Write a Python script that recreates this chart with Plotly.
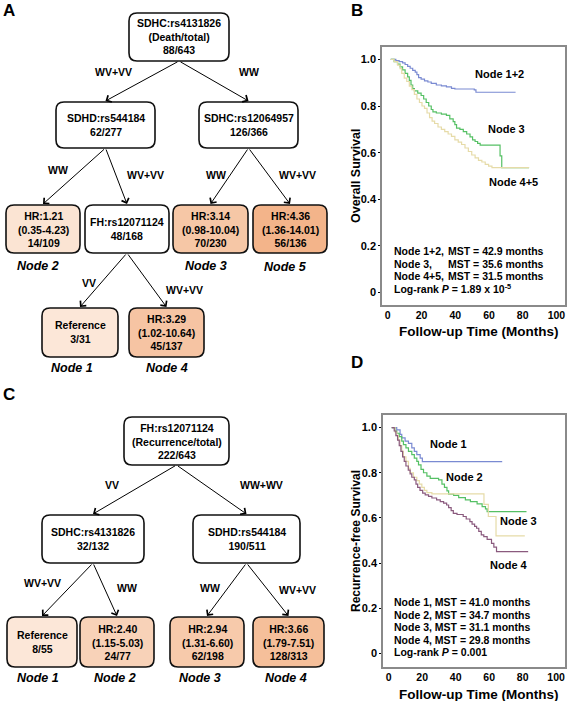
import plotly.graph_objects as go

W, H = 567, 701
FONT = "Liberation Sans, Arial, sans-serif"

# ---------------- data: panel A tree ----------------
a_nodes = ["SDHC:rs4131826<br>(Death/total)<br>88/643",
           "SDHD:rs544184<br>62/277",
           "SDHC:rs12064957<br>126/366",
           "HR:1.21<br>(0.35-4.23)<br>14/109",
           "FH:rs12071124<br>48/168",
           "HR:3.14<br>(0.98-10.04)<br>70/230",
           "HR:4.36<br>(1.36-14.01)<br>56/136",
           "Reference<br>3/31",
           "HR:3.29<br>(1.02-10.64)<br>45/137"]
a_hr = [None, None, None, 1.21, None, 3.14, 4.36, 1.0, 3.29]
a_edges = [(0, 1), (0, 2), (1, 3), (1, 4), (2, 5), (2, 6), (4, 7), (4, 8)]
a_edge_labels = ["WV+VV", "WW", "WW", "WV+VV", "WW", "WV+VV", "VV", "WV+VV"]
a_node_names = ["", "", "", "Node 2", "", "Node 3", "Node 5", "Node 1", "Node 4"]

# ---------------- data: panel C tree ----------------
c_nodes = ["FH:rs12071124<br>(Recurrence/total)<br>222/643",
           "SDHC:rs4131826<br>32/132",
           "SDHD:rs544184<br>190/511",
           "Reference<br>8/55",
           "HR:2.40<br>(1.15-5.03)<br>24/77",
           "HR:2.94<br>(1.31-6.60)<br>62/198",
           "HR:3.66<br>(1.79-7.51)<br>128/313"]
c_hr = [None, None, None, 1.0, 2.40, 2.94, 3.66]
c_edges = [(0, 1), (0, 2), (1, 3), (1, 4), (2, 5), (2, 6)]
c_edge_labels = ["VV", "WW+WV", "WV+VV", "WW", "WW", "WV+VV"]
c_node_names = ["", "", "", "Node 1", "Node 2", "Node 3", "Node 4"]

# ---------------- data: panel B survival curves ----------------
b_names = ["Node 1+2", "Node 3", "Node 4+5"]
b_t_node12 = [0, 3, 5, 7, 8.5, 10, 11.5, 13, 14.5, 15.5, 16.5, 18, 20, 22, 24, 27, 30, 33, 36, 38, 49.5, 50.5, 74]
b_s_node12 = [1.0, 0.995, 0.99, 0.985, 0.978, 0.97, 0.962, 0.953, 0.945, 0.935, 0.922, 0.915, 0.908, 0.903,
              0.897, 0.89, 0.886, 0.882, 0.876, 0.873, 0.869, 0.859, 0.859]
b_t_node3 = [0, 2, 4, 5.5, 7, 8.5, 10, 11, 12, 13, 14, 16, 18, 19.5, 21, 22.5, 24, 25, 27, 30, 33, 35, 37, 38,
             39, 41, 43, 45, 47, 48.5, 50, 51.5, 53, 64.8, 65.8, 82]
b_s_node3 = [1.0, 0.99, 0.98, 0.968, 0.955, 0.94, 0.925, 0.91, 0.89, 0.875, 0.865, 0.855, 0.845, 0.83, 0.815,
             0.80, 0.785, 0.775, 0.77, 0.765, 0.76, 0.745, 0.733, 0.72, 0.705, 0.70, 0.69, 0.68, 0.668, 0.655,
             0.648, 0.64, 0.632, 0.586, 0.536, 0.536]
b_t_node45 = [0, 2, 4, 5.5, 6.5, 8, 9.5, 11, 12.5, 14, 15.5, 17, 18.5, 20, 21.5, 23, 24.5, 26, 28, 30, 32, 34,
              36, 38, 40, 42, 44, 46, 48, 50, 52, 54, 56, 58, 60, 82]
b_s_node45 = [1.0, 0.99, 0.975, 0.96, 0.94, 0.92, 0.905, 0.885, 0.87, 0.85, 0.83, 0.815, 0.80, 0.79, 0.77, 0.75,
              0.735, 0.725, 0.71, 0.70, 0.69, 0.68, 0.67, 0.655, 0.645, 0.635, 0.62, 0.605, 0.59, 0.578, 0.567,
              0.56, 0.55, 0.542, 0.536, 0.536]
b_stats_nodes = ["Node 1+2,", "Node 3,", "Node 4+5,"]
b_stats_mst = [42.9, 35.6, 31.5]
b_logrank = "1.89 x 10<sup>-5</sup>"

# ---------------- data: panel D survival curves ----------------
d_names = ["Node 1", "Node 2", "Node 3", "Node 4"]
d_t_node1 = [0, 3, 5, 6, 8, 10, 12, 13.5, 15, 17, 18.3, 66]
d_s_node1 = [1.0, 0.99, 0.97, 0.955, 0.94, 0.93, 0.91, 0.895, 0.88, 0.865, 0.849, 0.849]
d_t_node2 = [0, 2, 3, 4.5, 6, 7, 8.5, 10, 12, 13.5, 15, 16, 17.5, 19, 21, 23, 28, 30, 31.5, 33, 34, 37, 40,
             44, 47, 51, 54, 56, 57, 80.5]
d_s_node2 = [1.0, 0.985, 0.975, 0.96, 0.94, 0.925, 0.91, 0.895, 0.88, 0.865, 0.85, 0.835, 0.815, 0.80, 0.785,
             0.775, 0.768, 0.75, 0.735, 0.72, 0.705, 0.70, 0.69, 0.68, 0.672, 0.662, 0.65, 0.64, 0.628, 0.628]
d_t_node3 = [0, 2, 3, 4, 5, 6, 7, 8.5, 10, 11, 13, 15, 16.5, 18, 19.5, 21, 24, 55.1, 57.7, 62.3, 79.5]
d_s_node3 = [1.0, 0.98, 0.965, 0.945, 0.92, 0.895, 0.87, 0.85, 0.82, 0.80, 0.78, 0.765, 0.75, 0.735, 0.722,
             0.712, 0.706, 0.66, 0.606, 0.52, 0.52]
d_t_node4 = [0, 1.5, 2.5, 3.5, 4.5, 5.5, 6.5, 7.5, 8.5, 9.9, 11, 12, 13.5, 14.5, 15.5, 16.9, 18.5, 20, 22, 24,
             26.8, 29, 31, 32.8, 34, 35.5, 36.8, 39, 42.7, 44.5, 46.7, 48, 49.5, 50.7, 52, 53.5, 55, 57, 59.6,
             61, 62.6, 81.5]
d_s_node4 = [1.0, 0.985, 0.965, 0.945, 0.92, 0.895, 0.87, 0.85, 0.83, 0.812, 0.795, 0.78, 0.768, 0.75, 0.735,
             0.722, 0.71, 0.702, 0.695, 0.688, 0.68, 0.672, 0.665, 0.657, 0.645, 0.632, 0.62, 0.615, 0.606,
             0.595, 0.583, 0.572, 0.562, 0.554, 0.54, 0.525, 0.517, 0.505, 0.487, 0.47, 0.45, 0.45]
d_stats_nodes = ["Node 1,", "Node 2,", "Node 3,", "Node 4,"]
d_stats_mst = [41.0, 34.7, 31.1, 29.8]
d_logrank = "0.001"

x_ticks = [0, 20, 40, 60, 80, 100]
y_ticks = [0, 0.2, 0.4, 0.6, 0.8, 1.0]
y_ticktext = ["0", "0.2", "0.4", "0.6", "0.8", "1.0"]

# ---------------- layout (pixel positions) ----------------
a_boxes = [(129, 229, 13, 61), (56, 155, 102, 148), (199, 298, 102, 148),
           (6, 80, 205, 253), (85, 169, 205, 253), (173, 248, 205, 253), (253, 327, 205, 253),
           (42, 118, 308, 357), (129, 204, 308, 357)]
a_label_pos = [(113, 72), (249, 72), (58, 170), (145, 175), (216, 175), (297, 175), (89, 283), (184, 290)]
a_name_pos = {3: (38, 266), 5: (206, 266), 6: (285, 267), 7: (72, 368), 8: (167, 368)}

c_boxes = [(124, 229, 417, 465), (42, 144, 515, 563), (193, 300, 515, 563),
           (7, 77, 617, 667), (80, 154, 617, 667), (170, 244, 617, 667), (253, 324, 617, 667)]
c_label_pos = [(112, 485), (261, 485), (42, 583), (127, 588), (210, 588), (297, 590)]
c_name_pos = {3: (38, 678), 4: (115, 678), 5: (200, 678), 6: (286, 678)}

COL_BLUE = "#7A8AD2"
COL_GREEN = "#55C064"
COL_TAN = "#E6DBA8"
COL_PURPLE = "#8A5A7E"


def px(x):
    return x / W


def py(y):
    return 1 - y / H


def hr_color(hr):
    if hr is None:
        return "white"
    t = max(0.0, min(1.0, (hr - 1.0) / (4.36 - 1.0)))
    lo = (252, 231, 216)
    hi = (243, 180, 138)
    c = [round(lo[i] + (hi[i] - lo[i]) * t) for i in range(3)]
    return f"rgb({c[0]},{c[1]},{c[2]})"


def rr_path(x0, x1, y0, y1, r=8):
    f = lambda x, y: f"{px(x):.5f},{py(y):.5f}"
    return (f"M {f(x0 + r, y0)} L {f(x1 - r, y0)} Q {f(x1, y0)} {f(x1, y0 + r)} "
            f"L {f(x1, y1 - r)} Q {f(x1, y1)} {f(x1 - r, y1)} L {f(x0 + r, y1)} "
            f"Q {f(x0, y1)} {f(x0, y1 - r)} L {f(x0, y0 + r)} Q {f(x0, y0)} {f(x0 + r, y0)} Z")


shapes = []
annotations = []


def txt(x, y, text, size=10.5, xanchor="center", italic=False, angle=0):
    t = f"<b>{text}</b>"
    if italic:
        t = f"<b><i>{text}</i></b>"
    annotations.append(dict(x=px(x), y=py(y), xref="paper", yref="paper", text=t, showarrow=False,
                            xanchor=xanchor, yanchor="middle", textangle=angle,
                            font=dict(family=FONT, size=size, color="black")))


def draw_tree(nodes, hrs, edges, edge_labels, names, boxes, label_pos, name_pos):
    for i, (x0, x1, y0, y1) in enumerate(boxes):
        shapes.append(dict(type="path", path=rr_path(x0, x1, y0, y1), xref="paper", yref="paper",
                           fillcolor=hr_color(hrs[i]), line=dict(color="#111111", width=1.6)))
        txt((x0 + x1) / 2, (y0 + y1) / 2, nodes[i], size=10.5)
        if names[i]:
            nx, ny = name_pos[i]
            txt(nx, ny, names[i], size=12.5, italic=True)
    for k, (p, c) in enumerate(edges):
        bx0, bx1, by0, by1 = boxes[p]
        cx0, cx1, cy0, cy1 = boxes[c]
        sx, sy = (bx0 + bx1) / 2, by1
        ex, ey = (cx0 + cx1) / 2, cy0 - 1
        annotations.append(dict(x=px(ex), y=py(ey), xref="paper", yref="paper", text="",
                                showarrow=True, ax=sx - ex, ay=sy - ey, axref="pixel", ayref="pixel",
                                arrowhead=4, arrowsize=1.5, arrowwidth=1, arrowcolor="black", standoff=0))
        lx, ly = label_pos[k]
        txt(lx, ly, edge_labels[k], size=10.5)


draw_tree(a_nodes, a_hr, a_edges, a_edge_labels, a_node_names, a_boxes, a_label_pos, a_name_pos)
draw_tree(c_nodes, c_hr, c_edges, c_edge_labels, c_node_names, c_boxes, c_label_pos, c_name_pos)

# panel letters
txt(9, 11, "A", size=17)
txt(357, 11, "B", size=17)
txt(9, 394, "C", size=17)
txt(357, 362, "D", size=17)

fig = go.Figure()

b_curves = [(b_t_node12, b_s_node12, COL_BLUE), (b_t_node3, b_s_node3, COL_GREEN),
            (b_t_node45, b_s_node45, COL_TAN)]
for (t, s, col), nm in zip(b_curves, b_names):
    fig.add_trace(go.Scatter(x=t, y=s, mode="lines", line=dict(color=col, width=1.2, shape="hv"),
                             name=nm, xaxis="x", yaxis="y", showlegend=False, hoverinfo="skip"))

d_curves = [(d_t_node1, d_s_node1, COL_BLUE), (d_t_node2, d_s_node2, COL_GREEN),
            (d_t_node3, d_s_node3, COL_TAN), (d_t_node4, d_s_node4, COL_PURPLE)]
for (t, s, col), nm in zip(d_curves, d_names):
    fig.add_trace(go.Scatter(x=t, y=s, mode="lines", line=dict(color=col, width=1.2, shape="hv"),
                             name=nm, xaxis="x2", yaxis="y2", showlegend=False, hoverinfo="skip"))

# curve labels (data coordinates)
b_label_xy = [(64.2, 0.937), (68.9, 0.701), (72.5, 0.474)]
for nm, (x, y) in zip(b_names, b_label_xy):
    annotations.append(dict(x=x, y=y, xref="x", yref="y", text=f"<b>{nm}</b>", showarrow=False,
                            font=dict(family=FONT, size=11, color="black")))
d_label_xy = [(34.2, 0.928), (43.2, 0.781), (76.0, 0.586), (70.0, 0.391)]
for nm, (x, y) in zip(d_names, d_label_xy):
    annotations.append(dict(x=x, y=y, xref="x2", yref="y2", text=f"<b>{nm}</b>", showarrow=False,
                            font=dict(family=FONT, size=11, color="black")))

# stats text
b_rows = [251, 264, 276]
for nm, mst, yy in zip(b_stats_nodes, b_stats_mst, b_rows):
    txt(392, yy, nm, size=10.5, xanchor="left")
    txt(446, yy, f"MST = {mst:.1f} months", size=10.5, xanchor="left")
annotations.append(dict(x=px(392), y=py(289), xref="paper", yref="paper",
                        text=f"<b>Log-rank <i>P</i> = {b_logrank}</b>", showarrow=False,
                        xanchor="left", yanchor="middle", font=dict(family=FONT, size=10.5, color="black")))
d_rows = [602, 615, 627, 640]
for nm, mst, yy in zip(d_stats_nodes, d_stats_mst, d_rows):
    txt(392, yy, f"{nm} MST = {mst:.1f} months", size=10.5, xanchor="left")
annotations.append(dict(x=px(392), y=py(652), xref="paper", yref="paper",
                        text=f"<b>Log-rank <i>P</i> = {d_logrank}</b>", showarrow=False,
                        xanchor="left", yanchor="middle", font=dict(family=FONT, size=10.5, color="black")))

# axis titles
txt(478, 331, "Follow-up Time (Months)", size=13.5)
txt(478, 694, "Follow-up Time (Months)", size=13.5)
txt(356, 176, "Overall Survival", size=12.5, angle=-90)
txt(356, 541, "Recurrence-free Survival", size=12, angle=-90)

axis_common = dict(showgrid=False, zeroline=False, showline=True, mirror=True, linecolor="#8a8a8a",
                   linewidth=1.5, automargin=False)
tickfont_y = dict(family=FONT, size=11, color="black")
tickfont_x = dict(family=FONT, size=10.5, color="black")
xticktext = [f"<b>{v}</b>" for v in x_ticks]
yticktext = [f"<b>{v}</b>" for v in y_ticktext]

fig.update_layout(
    width=W, height=H, autosize=False,
    margin=dict(l=0, r=0, t=0, b=0, autoexpand=False),
    paper_bgcolor="white", plot_bgcolor="white",
    showlegend=False,
    xaxis=dict(domain=[px(382), px(565)], range=[-5.2, 103.3], anchor="y", tickvals=x_ticks,
               ticktext=xticktext, ticks="", ticklabeloverflow="allow", ticklabelshift=-3,
               tickfont=tickfont_x, **axis_common),
    yaxis=dict(domain=[py(305), py(47)], range=[-0.053, 1.053], anchor="x", tickvals=y_ticks,
               ticktext=yticktext, ticks="outside", ticklen=2, tickcolor="black",
               tickfont=tickfont_y, **axis_common),
    xaxis2=dict(domain=[px(383), px(565)], range=[-5.2, 103.5], anchor="y2", tickvals=x_ticks,
                ticktext=xticktext, ticks="", ticklabeloverflow="allow", ticklabelshift=-3,
                tickfont=tickfont_x, **axis_common),
    yaxis2=dict(domain=[py(667), py(415)], range=[-0.061, 1.056], anchor="x2", tickvals=y_ticks,
                ticktext=yticktext, ticks="outside", ticklen=2, tickcolor="black",
                tickfont=tickfont_y, **axis_common),
    shapes=shapes,
    annotations=annotations,
)

fig.write_html("out.html", config={"displayModeBar": False},
               post_script="document.body.style.margin='0';document.body.style.overflow='hidden';")
